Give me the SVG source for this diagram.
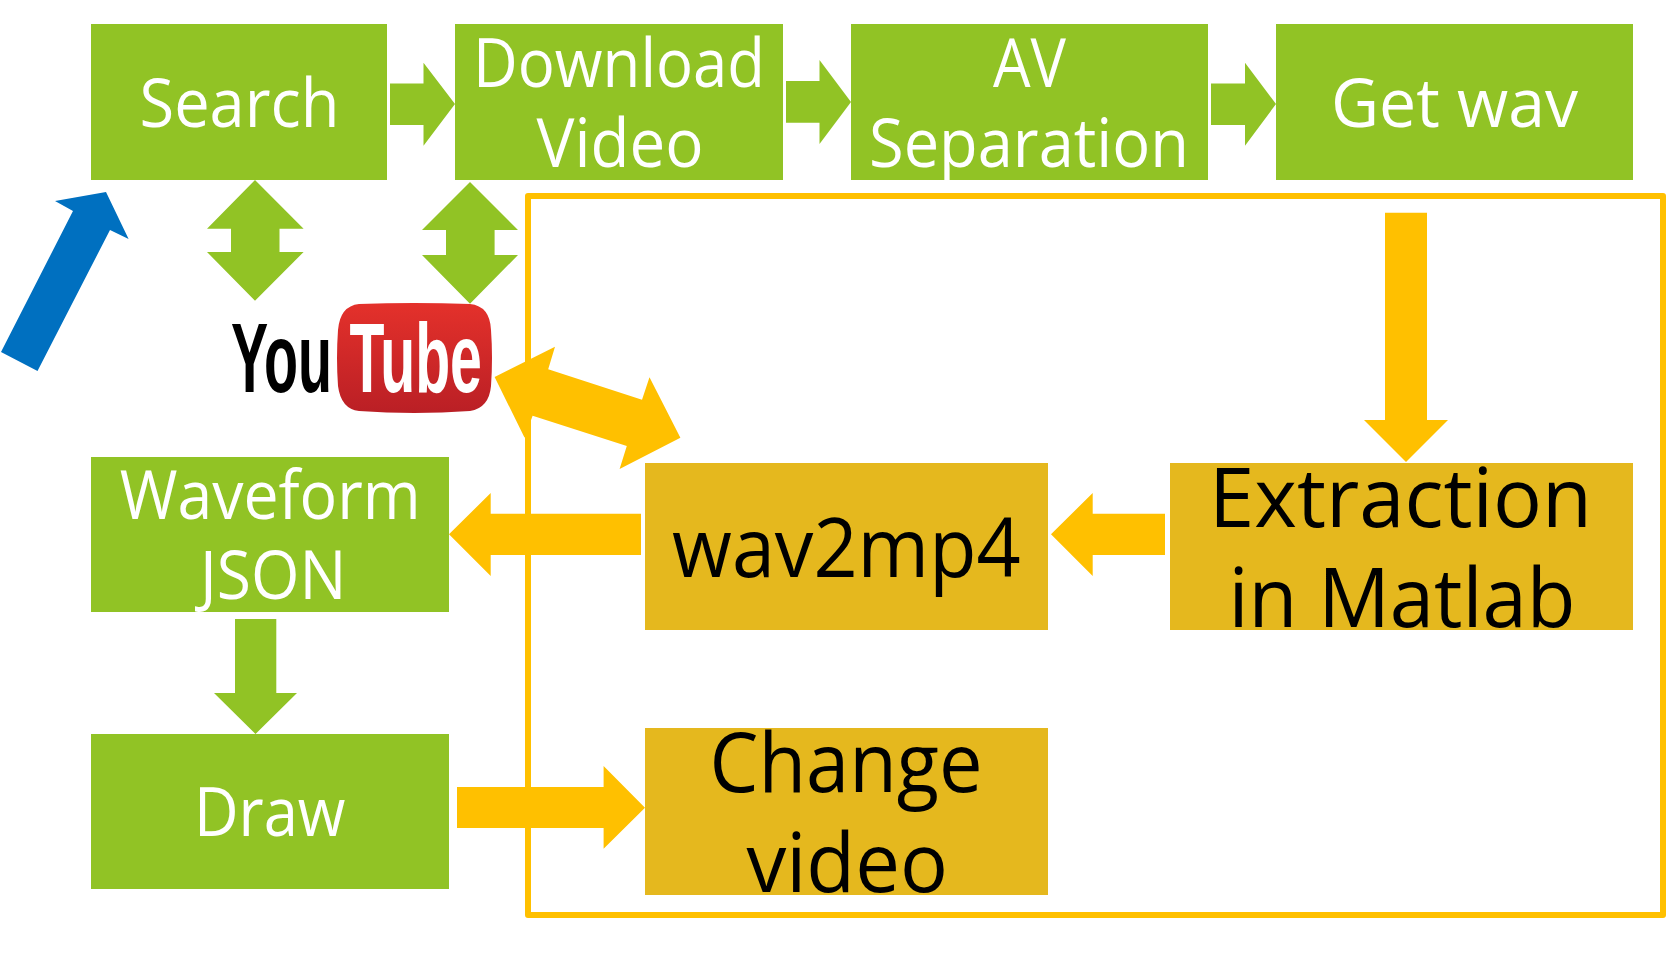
<svg xmlns="http://www.w3.org/2000/svg" width="1669" height="962" viewBox="0 0 1669 962">
<style>
.g{fill:#91C325}
.y{fill:#E5B81E}
.o{fill:#FFC000}
.b{fill:#0070C0}
text{font-family:"Open Sans","Noto Sans","DejaVu Sans",sans-serif;font-size:68px}
.w{fill:#FFFFFF}
.k{fill:#000000;font-size:83px}
.yt{font-family:"Liberation Sans",Arial,sans-serif;font-weight:700;font-size:99px}
</style>
<defs><linearGradient id="red" x1="0" y1="0" x2="0" y2="1"><stop offset="0" stop-color="#E4312B"/><stop offset="1" stop-color="#BA1F25"/></linearGradient></defs>
<rect width="1669" height="962" fill="#FFFFFF"/>
<g id="frame"><rect x="528" y="196" width="1135" height="719" fill="none" stroke="#FFC000" stroke-width="6" stroke-linejoin="round"/></g>
<g id="connectors">
<polygon class="g" points="390,83.5 423.5,83.5 423.5,62.7 455,104 423.5,145.7 423.5,125 390,125"/>
<polygon class="g" points="786,81 819.5,81 819.5,60 851,102 819.5,144 819.5,122.7 786,122.7"/>
<polygon class="g" points="1211,83.5 1245,83.5 1245,62.7 1276,104 1245,145.7 1245,125 1211,125"/>
<polygon class="g" points="255,180 303.6,228.7 279.5,228.7 279.5,252 303.6,252 255,300.7 207,252 231,252 231,228.7 207,228.7"/>
<polygon class="g" points="470,182 518,230 494.6,230 494.6,255 518,255 470,303.7 422,255 446,255 446,230 422,230"/>
<polygon class="b" points="1,352 37.5,371 110,230 128.6,239 106,192 55,201 73,211"/>
<polygon class="o" points="494.6,377 555,346.7 548.2,369.3 642,399.7 649.5,377.3 680.4,437.7 619.6,469 626.8,446 532.6,415.7 524.6,437.7"/>
<polygon class="o" points="1385,212.7 1427,212.7 1427,420 1448,420 1406,462 1364,420 1385,420"/>
<polygon class="o" points="641,513.7 490.7,513.7 490.7,493 449,534.3 490.7,576 490.7,555 641,555"/>
<polygon class="o" points="1165,513.7 1092.7,513.7 1092.7,493 1051,534.3 1092.7,576 1092.7,555 1165,555"/>
<polygon class="g" points="235,619 276.3,619 276.3,693 297,693 255.5,734 214,693 235,693"/>
<polygon class="o" points="457,787 603.6,787 603.6,766 645,807.7 603.6,848.7 603.6,828 457,828"/>
</g>
<g id="search"><rect class="g" x="91" y="24" width="296" height="156"/><text class="w" x="139.5" y="127" textLength="200" lengthAdjust="spacingAndGlyphs">Search</text></g>
<g id="download-video"><rect class="g" x="455" y="24" width="328" height="156"/><text class="w" x="473" y="87" textLength="292" lengthAdjust="spacingAndGlyphs">Download</text><text class="w" x="536.5" y="167" textLength="167" lengthAdjust="spacingAndGlyphs">Video</text></g>
<g id="av-separation"><rect class="g" x="851" y="24" width="357" height="156"/><text class="w" x="993" y="87" textLength="73" lengthAdjust="spacingAndGlyphs">AV</text><text class="w" x="869" y="167" textLength="320" lengthAdjust="spacingAndGlyphs">Separation</text></g>
<g id="get-wav"><rect class="g" x="1276" y="24" width="357" height="156"/><text class="w" x="1331" y="127" textLength="247" lengthAdjust="spacingAndGlyphs">Get wav</text></g>
<g id="youtube"><path d="M359,304Q414,302 470,304Q490,306 491,330Q493,358 491,386Q489,408 470,411Q414,415 359,411Q341,409 338,386Q336,358 338,330Q340,306 359,304Z" fill="url(#red)"/><text class="yt" transform="translate(231 392) scale(.563 1)" fill="#000000">You</text><text class="yt" transform="translate(349.5 392) scale(.578 1)" fill="#FFFFFF">Tube</text></g>
<g id="waveform-json"><rect class="g" x="91" y="457" width="358" height="155"/><text class="w" x="119.7" y="519.3" textLength="301" lengthAdjust="spacingAndGlyphs">Waveform</text><text class="w" x="200" y="599" textLength="146.3" lengthAdjust="spacingAndGlyphs">JSON</text></g>
<g id="draw"><rect class="g" x="91" y="734" width="358" height="155"/><text class="w" x="194" y="836" textLength="151.5" lengthAdjust="spacingAndGlyphs">Draw</text></g>
<g id="wav2mp4"><rect class="y" x="645" y="463" width="403" height="167"/><text class="k" x="672" y="577" textLength="348.6" lengthAdjust="spacingAndGlyphs">wav2mp4</text></g>
<g id="extraction"><rect class="y" x="1170" y="463" width="463" height="167"/><text class="k" x="1209" y="527.3" textLength="383" lengthAdjust="spacingAndGlyphs">Extraction</text><text class="k" x="1228.5" y="627" textLength="347" lengthAdjust="spacingAndGlyphs">in Matlab</text></g>
<g id="change-video"><rect class="y" x="645" y="728" width="403" height="167"/><text class="k" x="709.5" y="792" textLength="273" lengthAdjust="spacingAndGlyphs">Change</text><text class="k" x="746.4" y="892" textLength="201.5" lengthAdjust="spacingAndGlyphs">video</text></g>
</svg>
